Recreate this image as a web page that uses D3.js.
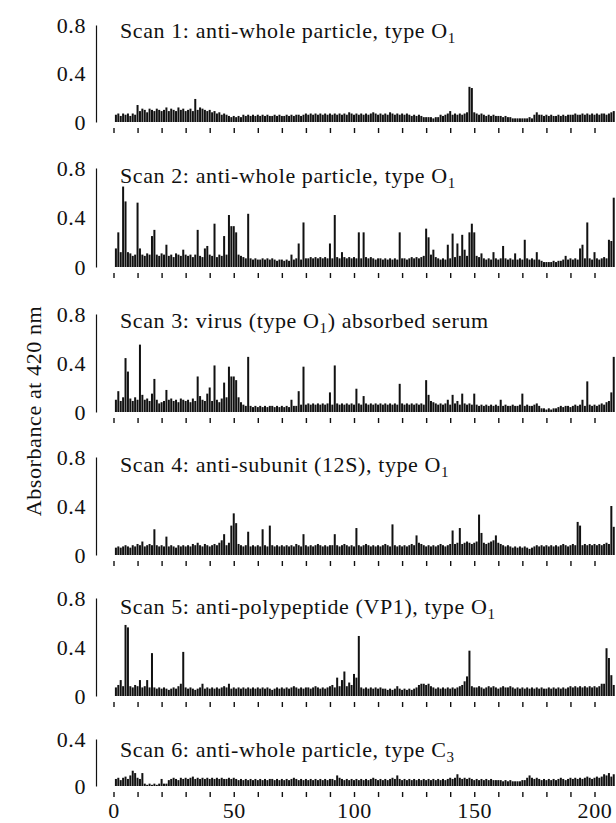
<!DOCTYPE html>
<html><head><meta charset="utf-8">
<script src="https://cdn.jsdelivr.net/npm/d3@7"></script>
<style>
html,body{margin:0;padding:0;background:#fff;}
svg{display:block;font-family:"Liberation Serif","Times New Roman",serif;}
</style></head><body>
<svg id="chart" width="616" height="823"></svg>
<script>
// Peptide positions 1..208 (x axis)
const positions = d3.range(1, 209);

const scan1 = [
0.06,0.07,0.05,0.07,0.06,0.07,0.05,0.07,0.06,0.14,
0.09,0.11,0.10,0.08,0.11,0.10,0.09,0.11,0.10,0.09,
0.10,0.12,0.09,0.11,0.10,0.09,0.12,0.10,0.11,0.09,
0.10,0.11,0.09,0.19,0.10,0.12,0.11,0.10,0.09,0.10,
0.08,0.09,0.07,0.08,0.06,0.07,0.06,0.05,0.04,0.05,
0.04,0.05,0.04,0.06,0.05,0.06,0.05,0.06,0.05,0.06,
0.05,0.06,0.05,0.06,0.05,0.05,0.06,0.05,0.06,0.05,
0.05,0.06,0.05,0.06,0.05,0.06,0.06,0.05,0.06,0.07,
0.06,0.07,0.06,0.07,0.06,0.07,0.06,0.07,0.06,0.07,
0.06,0.07,0.06,0.07,0.06,0.07,0.06,0.08,0.07,0.06,
0.07,0.06,0.07,0.06,0.07,0.06,0.07,0.08,0.07,0.06,
0.07,0.06,0.07,0.06,0.08,0.07,0.06,0.07,0.06,0.07,
0.06,0.07,0.06,0.05,0.06,0.05,0.06,0.05,0.04,0.04,
0.04,0.04,0.03,0.04,0.04,0.06,0.05,0.06,0.07,0.09,
0.06,0.07,0.06,0.07,0.06,0.07,0.08,0.29,0.28,0.08,
0.07,0.06,0.07,0.06,0.05,0.06,0.05,0.06,0.05,0.05,
0.05,0.04,0.05,0.04,0.04,0.03,0.03,0.03,0.03,0.03,
0.03,0.03,0.04,0.03,0.06,0.08,0.06,0.06,0.05,0.06,
0.05,0.06,0.05,0.05,0.06,0.05,0.06,0.05,0.06,0.06,
0.06,0.07,0.06,0.06,0.07,0.06,0.07,0.06,0.07,0.06,
0.07,0.06,0.07,0.07,0.06,0.07,0.08,0.09];

const scan2 = [
0.15,0.28,0.12,0.65,0.53,0.12,0.11,0.09,0.10,0.52,
0.15,0.10,0.09,0.11,0.10,0.25,0.30,0.10,0.09,0.11,
0.10,0.18,0.09,0.10,0.08,0.11,0.10,0.09,0.14,0.10,
0.09,0.10,0.08,0.10,0.30,0.09,0.08,0.15,0.17,0.10,
0.09,0.35,0.08,0.10,0.09,0.25,0.10,0.42,0.33,0.33,
0.28,0.10,0.09,0.08,0.07,0.43,0.07,0.06,0.07,0.06,
0.06,0.07,0.06,0.07,0.06,0.07,0.06,0.05,0.06,0.06,
0.05,0.06,0.05,0.10,0.06,0.07,0.19,0.06,0.36,0.07,
0.07,0.08,0.07,0.08,0.07,0.08,0.07,0.08,0.07,0.19,
0.07,0.42,0.08,0.07,0.12,0.08,0.07,0.08,0.07,0.08,
0.07,0.28,0.07,0.28,0.08,0.07,0.08,0.07,0.06,0.07,
0.07,0.06,0.07,0.06,0.07,0.06,0.07,0.06,0.28,0.07,
0.07,0.06,0.07,0.08,0.07,0.08,0.07,0.08,0.09,0.31,
0.24,0.10,0.14,0.08,0.07,0.06,0.07,0.06,0.18,0.07,
0.27,0.08,0.19,0.09,0.26,0.14,0.09,0.28,0.35,0.28,
0.09,0.08,0.11,0.07,0.06,0.07,0.06,0.12,0.07,0.06,
0.07,0.17,0.07,0.06,0.07,0.06,0.11,0.06,0.07,0.06,
0.22,0.07,0.06,0.07,0.06,0.12,0.06,0.05,0.04,0.04,
0.04,0.04,0.05,0.04,0.05,0.05,0.06,0.09,0.06,0.07,
0.06,0.07,0.06,0.15,0.18,0.07,0.36,0.07,0.06,0.12,
0.07,0.06,0.07,0.08,0.07,0.22,0.21,0.56];

const scan3 = [
0.10,0.17,0.09,0.12,0.44,0.33,0.11,0.09,0.12,0.10,
0.55,0.14,0.10,0.11,0.09,0.15,0.27,0.10,0.07,0.08,
0.09,0.18,0.10,0.11,0.09,0.10,0.08,0.11,0.10,0.09,
0.10,0.08,0.11,0.09,0.29,0.13,0.10,0.09,0.15,0.20,
0.09,0.38,0.10,0.08,0.11,0.24,0.12,0.37,0.29,0.29,
0.26,0.12,0.08,0.06,0.05,0.45,0.05,0.04,0.05,0.04,
0.05,0.04,0.05,0.04,0.05,0.05,0.04,0.05,0.04,0.05,
0.04,0.05,0.04,0.10,0.05,0.05,0.17,0.06,0.37,0.06,
0.07,0.06,0.07,0.06,0.07,0.06,0.07,0.06,0.07,0.16,
0.06,0.38,0.07,0.06,0.07,0.06,0.07,0.06,0.07,0.06,
0.19,0.07,0.06,0.13,0.07,0.06,0.07,0.06,0.07,0.06,
0.07,0.06,0.07,0.06,0.07,0.06,0.07,0.06,0.23,0.07,
0.06,0.07,0.06,0.07,0.06,0.07,0.06,0.07,0.06,0.26,
0.14,0.09,0.08,0.07,0.06,0.07,0.06,0.07,0.10,0.06,
0.14,0.07,0.09,0.06,0.15,0.07,0.06,0.07,0.06,0.15,
0.06,0.05,0.06,0.05,0.06,0.05,0.06,0.05,0.06,0.05,
0.10,0.05,0.06,0.05,0.05,0.06,0.05,0.05,0.06,0.15,
0.05,0.06,0.05,0.05,0.06,0.07,0.05,0.03,0.03,0.02,
0.03,0.02,0.03,0.03,0.04,0.05,0.04,0.05,0.05,0.04,
0.05,0.06,0.05,0.06,0.10,0.05,0.25,0.06,0.05,0.06,
0.05,0.06,0.07,0.06,0.08,0.09,0.16,0.45];

const scan4 = [
0.06,0.07,0.06,0.07,0.08,0.07,0.06,0.08,0.07,0.09,
0.08,0.11,0.07,0.08,0.09,0.08,0.21,0.08,0.07,0.08,
0.07,0.15,0.07,0.08,0.07,0.06,0.08,0.07,0.08,0.07,
0.08,0.07,0.09,0.08,0.10,0.08,0.07,0.09,0.08,0.07,
0.08,0.09,0.08,0.10,0.12,0.17,0.08,0.10,0.24,0.34,
0.26,0.09,0.08,0.07,0.08,0.19,0.07,0.08,0.07,0.08,
0.07,0.21,0.08,0.07,0.24,0.08,0.07,0.08,0.07,0.08,
0.07,0.08,0.07,0.08,0.07,0.09,0.08,0.07,0.17,0.08,
0.07,0.08,0.07,0.08,0.09,0.08,0.07,0.08,0.07,0.08,
0.08,0.17,0.08,0.07,0.08,0.09,0.08,0.07,0.08,0.07,
0.22,0.08,0.07,0.08,0.09,0.08,0.07,0.08,0.07,0.08,
0.07,0.08,0.09,0.08,0.07,0.25,0.08,0.07,0.08,0.07,
0.08,0.07,0.08,0.09,0.08,0.16,0.10,0.09,0.08,0.07,
0.08,0.07,0.08,0.07,0.08,0.09,0.08,0.07,0.08,0.09,
0.20,0.09,0.10,0.22,0.09,0.10,0.11,0.10,0.09,0.10,
0.11,0.33,0.18,0.10,0.09,0.10,0.11,0.12,0.16,0.10,
0.09,0.08,0.07,0.08,0.07,0.06,0.07,0.06,0.07,0.06,
0.07,0.06,0.05,0.06,0.07,0.08,0.07,0.08,0.07,0.08,
0.07,0.08,0.07,0.08,0.07,0.08,0.09,0.08,0.07,0.08,
0.09,0.08,0.27,0.24,0.08,0.09,0.08,0.09,0.08,0.09,
0.08,0.09,0.08,0.09,0.10,0.09,0.40,0.23];

const scan5 = [
0.07,0.09,0.13,0.08,0.58,0.56,0.08,0.07,0.09,0.08,
0.13,0.07,0.08,0.13,0.07,0.35,0.07,0.06,0.07,0.06,
0.07,0.06,0.05,0.06,0.07,0.06,0.08,0.10,0.36,0.07,
0.06,0.07,0.06,0.05,0.06,0.07,0.10,0.06,0.07,0.06,
0.07,0.06,0.07,0.06,0.07,0.08,0.07,0.10,0.06,0.07,
0.06,0.07,0.06,0.07,0.06,0.07,0.06,0.07,0.06,0.07,
0.06,0.07,0.06,0.07,0.06,0.05,0.06,0.07,0.06,0.07,
0.06,0.07,0.06,0.07,0.08,0.07,0.06,0.07,0.06,0.07,
0.07,0.06,0.07,0.08,0.07,0.06,0.07,0.06,0.07,0.08,
0.09,0.07,0.15,0.08,0.13,0.20,0.08,0.11,0.09,0.18,
0.15,0.49,0.07,0.06,0.07,0.06,0.07,0.06,0.07,0.06,
0.07,0.06,0.06,0.05,0.06,0.05,0.06,0.08,0.06,0.05,
0.06,0.05,0.06,0.05,0.06,0.07,0.09,0.10,0.10,0.09,
0.10,0.08,0.07,0.06,0.07,0.06,0.07,0.06,0.07,0.06,
0.07,0.06,0.07,0.08,0.09,0.12,0.16,0.37,0.08,0.07,
0.07,0.08,0.07,0.06,0.07,0.08,0.07,0.08,0.07,0.06,
0.07,0.08,0.07,0.07,0.08,0.07,0.06,0.07,0.06,0.07,
0.06,0.07,0.06,0.07,0.06,0.07,0.06,0.07,0.06,0.06,
0.07,0.06,0.07,0.06,0.07,0.06,0.07,0.06,0.07,0.08,
0.07,0.08,0.07,0.08,0.07,0.08,0.07,0.08,0.07,0.08,
0.07,0.08,0.10,0.10,0.39,0.31,0.17,0.09];

const scan6 = [
0.06,0.07,0.05,0.07,0.08,0.06,0.09,0.13,0.11,0.07,
0.06,0.11,0.02,0.01,0.02,0.01,0.02,0.01,0.02,0.06,
0.02,0.02,0.05,0.06,0.07,0.06,0.05,0.07,0.06,0.07,
0.06,0.07,0.08,0.06,0.07,0.06,0.07,0.06,0.07,0.06,
0.07,0.06,0.07,0.06,0.07,0.06,0.06,0.07,0.06,0.07,
0.06,0.05,0.06,0.05,0.06,0.05,0.06,0.05,0.06,0.05,
0.06,0.05,0.06,0.05,0.06,0.06,0.05,0.06,0.05,0.06,
0.05,0.06,0.05,0.06,0.07,0.06,0.05,0.06,0.05,0.06,
0.05,0.06,0.05,0.06,0.05,0.06,0.05,0.06,0.05,0.06,
0.06,0.05,0.09,0.07,0.06,0.05,0.06,0.05,0.06,0.05,
0.06,0.05,0.06,0.05,0.06,0.05,0.06,0.07,0.06,0.05,
0.06,0.05,0.06,0.05,0.06,0.07,0.06,0.09,0.06,0.05,
0.06,0.05,0.06,0.05,0.06,0.05,0.06,0.05,0.06,0.05,
0.06,0.05,0.06,0.05,0.06,0.05,0.06,0.05,0.06,0.07,
0.06,0.07,0.10,0.07,0.06,0.07,0.06,0.07,0.06,0.05,
0.06,0.05,0.06,0.05,0.06,0.05,0.06,0.05,0.05,0.05,
0.05,0.04,0.05,0.04,0.05,0.04,0.04,0.04,0.04,0.05,
0.05,0.07,0.09,0.07,0.06,0.07,0.06,0.05,0.06,0.05,
0.06,0.05,0.06,0.05,0.06,0.07,0.06,0.05,0.06,0.07,
0.06,0.07,0.06,0.07,0.06,0.07,0.08,0.07,0.06,0.07,
0.08,0.07,0.08,0.10,0.09,0.11,0.08,0.10];

const scans = [scan1, scan2, scan3, scan4, scan5, scan6];

// Panel titles (main text, subscript, trailing text)
const titleMain = [
  "Scan 1: anti-whole particle, type O",
  "Scan 2: anti-whole particle, type O",
  "Scan 3: virus (type O",
  "Scan 4: anti-subunit (12S), type O",
  "Scan 5: anti-polypeptide (VP1), type O",
  "Scan 6: anti-whole particle, type C"];
const titleSub = ["1", "1", "1", "1", "1", "3"];
const titleTail = ["", "", ") absorbed serum", "", "", ""];

const yMaxes = [0.8, 0.8, 0.8, 0.8, 0.8, 0.4];
const yTickValues = [[0,0.4,0.8],[0,0.4,0.8],[0,0.4,0.8],[0,0.4,0.8],[0,0.4,0.8],[0,0.4]];
const xTickMarks = d3.range(0, 201, 10);
const xTickLabels = [0, 50, 100, 150, 200];
const yAxisTitle = "Absorbance at 420 nm";

// ---- layout ----
const panelBase = [122, 267, 412, 555, 696, 786];
const panelHeight = [97, 99, 98, 98, 98, 47];
const panelTitleY = [38, 183, 328, 472, 614, 757];
const axisX = 96;
const FS = 22, LS = "0.6px", INK = "#111";

const svg = d3.select("#chart");
svg.append("rect").attr("width", 616).attr("height", 823).attr("fill", "#fff");

const x = d3.scaleLinear().domain([0, 210]).range([113.5, 113.5 + 210 * 2.405]);
const barW = 2.0;

scans.forEach((vals, i) => {
  const base = panelBase[i];
  const y = d3.scaleLinear().domain([0, yMaxes[i]]).range([base, base - panelHeight[i]]);
  const g = svg.append("g");

  g.append("g").selectAll("rect")
    .data(positions.map((p, k) => ({p, v: vals[k]})))
    .join("rect")
    .attr("x", d => x(d.p) - barW / 2)
    .attr("width", barW)
    .attr("y", d => y(d.v))
    .attr("height", d => base - y(d.v))
    .attr("fill", INK);

  // y axis
  const ya = g.append("g").attr("transform", `translate(${axisX},0)`)
    .call(d3.axisLeft(y).tickValues(yTickValues[i]).tickSize(0).tickSizeOuter(0).tickPadding(10)
      .tickFormat(d => d === 0 ? "0" : d3.format(".1f")(d)));
  ya.select(".domain").attr("stroke", INK).attr("stroke-width", 1.2);
  ya.selectAll("text").attr("font-size", FS).attr("letter-spacing", LS)
    .attr("fill", INK).attr("font-family", "Liberation Serif, serif");

  // x ticks
  const last = i === scans.length - 1;
  const xa = g.append("g").attr("transform", `translate(0,${base + 6})`)
    .call(d3.axisBottom(x).tickValues(xTickMarks).tickSize(5).tickPadding(5)
      .tickFormat(d => (last && xTickLabels.includes(d)) ? String(d) : ""));
  xa.select(".domain").remove();
  xa.selectAll(".tick line").attr("stroke", INK).attr("stroke-width", 1.4);
  xa.selectAll("text").attr("font-size", FS).attr("letter-spacing", LS)
    .attr("fill", INK).attr("font-family", "Liberation Serif, serif");

  // title
  const t = g.append("text").attr("x", 120).attr("y", panelTitleY[i])
    .attr("font-size", FS).attr("letter-spacing", LS).attr("fill", INK);
  t.append("tspan").text(titleMain[i]);
  t.append("tspan").attr("font-size", 15).attr("dy", 5).text(titleSub[i]);
  if (titleTail[i]) t.append("tspan").attr("dy", -5).attr("font-size", FS).text(titleTail[i]);
});

svg.append("text")
  .attr("transform", "translate(41,411) rotate(-90)")
  .attr("text-anchor", "middle")
  .attr("font-size", FS).attr("letter-spacing", LS).attr("fill", INK)
  .text(yAxisTitle);
</script>
</body></html>
